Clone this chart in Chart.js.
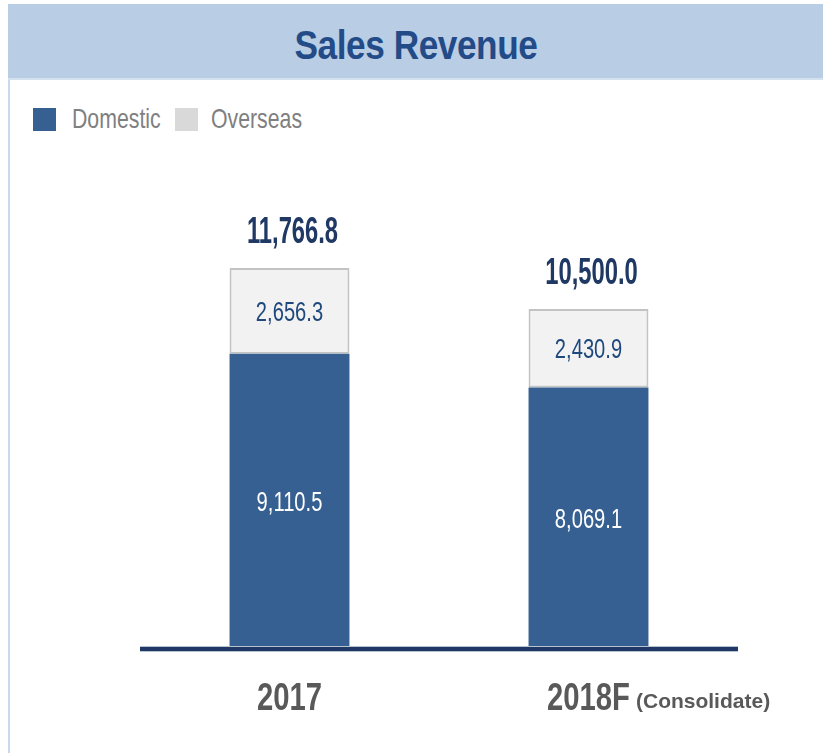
<!DOCTYPE html>
<html>
<head>
<meta charset="utf-8">
<script src="https://cdn.jsdelivr.net/npm/chart.js@4.4.1/dist/chart.umd.min.js"></script>
<style>
  body { margin: 0; width: 823px; height: 753px; position: relative; overflow: hidden; background: #fff;
         font-family: "Liberation Sans", Arial, sans-serif; }
  .frame { position: absolute; left: 8px; top: 80px; bottom: 0; width: 2px; background: #c9d9ec; }
  .header { position: absolute; left: 8px; right: 0; top: 4px; height: 76px; background: #b9cde5;
            border-bottom: 2px solid #d4e1ef; box-sizing: border-box; text-align: center; }
  .header h1 { margin: 0; display: inline-block; font-size: 40px; line-height: 82px; font-weight: bold;
               color: #234b87; transform: scaleX(0.88); letter-spacing: -0.5px; }
  .legend { position: absolute; left: 33px; top: 108px; height: 23px; }
  .legend .sw { position: absolute; top: 0; width: 23px; height: 23px; }
  .legend .lbl { position: absolute; top: -4px; font-size: 28px; line-height: 30px; color: #7f7f7f;
                 transform: scaleX(0.76); transform-origin: left center; white-space: nowrap; }
  #chartBox { position: absolute; left: 0; top: 0; width: 823px; height: 753px; }
</style>
</head>
<body>
<div class="header"><h1>Sales Revenue</h1></div>
<div class="frame"></div>
<div class="legend">
  <div class="sw" style="left:0;background:#376092"></div>
  <div class="lbl" style="left:39px">Domestic</div>
  <div class="sw" style="left:142px;background:#d9d9d9"></div>
  <div class="lbl" style="left:178px">Overseas</div>
</div>
<div id="chartBox"><canvas id="salesChart" width="823" height="753"></canvas></div>
<script>
const categories = ["2017", "2018F"];
const categoryNotes = ["", "(Consolidate)"];
const domestic = [9110.5, 8069.1];
const overseas = [2656.3, 2430.9];
const totals = [11766.8, 10500.0];

const fmt = (v) => v.toLocaleString("en-US", { minimumFractionDigits: 1, maximumFractionDigits: 1 });

function squeezeText(ctx, text, x, y, font, color, sx, align) {
    ctx.save();
    ctx.font = font;
    ctx.fillStyle = color;
    ctx.textAlign = align || "center";
    ctx.textBaseline = "alphabetic";
    ctx.translate(x, y);
    ctx.scale(sx, 1);
    ctx.fillText(text, 0, 0);
    ctx.restore();
}

const labelPlugin = {
    id: "labels",
    afterDatasetsDraw(chart) {
        const ctx = chart.ctx;
        const area = chart.chartArea;
        const dom = chart.getDatasetMeta(0).data;
        const ovr = chart.getDatasetMeta(1).data;

        // baseline
        ctx.save();
        ctx.fillStyle = "#b7c3d3";
        ctx.fillRect(area.left, area.bottom - 2, area.right - area.left, 6);
        ctx.fillStyle = "#1f3864";
        ctx.fillRect(area.left, area.bottom - 1, area.right - area.left, 4);
        ctx.restore();

        categories.forEach((cat, i) => {
            const d = dom[i];
            const o = ovr[i];
            squeezeText(ctx, fmt(domestic[i]), d.x, (d.y + d.base) / 2 + 10,
                "28px 'Liberation Sans', Arial", "#ffffff", 0.72);
            squeezeText(ctx, fmt(overseas[i]), o.x, (o.y + o.base) / 2 + 10,
                "28px 'Liberation Sans', Arial", "#1f497d", 0.72);
            squeezeText(ctx, fmt(totals[i]), o.x + 3, o.y - 25,
                "bold 36px 'Liberation Sans', Arial", "#1f3864", 0.66);

            // category label with optional note
            ctx.save();
            ctx.font = "bold 39px 'Liberation Sans', Arial";
            const w = ctx.measureText(cat).width * 0.75;
            ctx.restore();
            squeezeText(ctx, cat, d.x, area.bottom + 62,
                "bold 39px 'Liberation Sans', Arial", "#595959", 0.75);
            if (categoryNotes[i]) {
                squeezeText(ctx, categoryNotes[i], d.x + w / 2 + 6, area.bottom + 60,
                    "bold 21px 'Liberation Sans', Arial", "#595959", 1, "left");
            }
        });
    }
};

const salesChart = new Chart(document.getElementById("salesChart"), {
    type: "bar",
    data: {
        labels: categories,
        datasets: [{
            label: "Domestic",
            data: domestic,
            backgroundColor: "#376092",
            borderWidth: 0,
            barPercentage: 0.401,
            categoryPercentage: 1,
        }, {
            label: "Overseas",
            data: overseas,
            backgroundColor: "#f2f2f2",
            borderColor: "#c3c3c3",
            borderWidth: 2,
            borderSkipped: false,
            barPercentage: 0.401,
            categoryPercentage: 1,
        }]
    },
    options: {
        responsive: false,
        animation: false,
        maintainAspectRatio: false,
        layout: { padding: { left: 140, right: 85, top: 196, bottom: 105 } },
        plugins: { legend: { display: false }, tooltip: { enabled: false } },
        scales: {
            x: { stacked: true, display: false },
            y: { stacked: true, display: false, min: 0, max: 14000 }
        }
    },
    plugins: [labelPlugin]
});
</script>
</body>
</html>
